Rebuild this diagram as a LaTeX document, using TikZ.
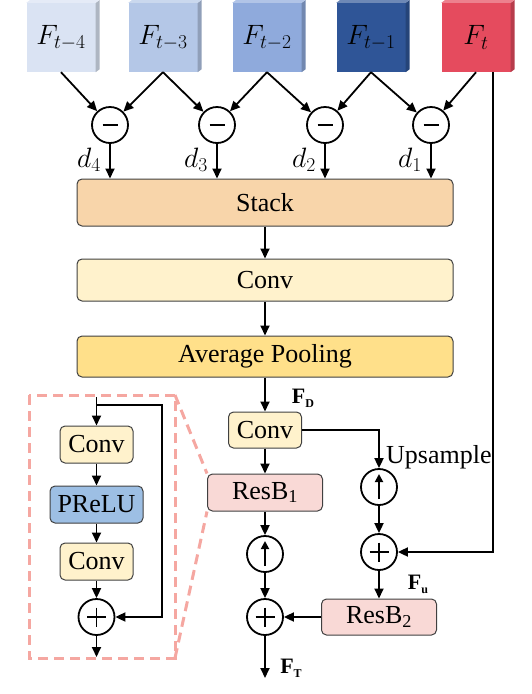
\RequirePackage{fix-cm}
\documentclass[tikz,border=0pt]{standalone}
\usepackage[no-math]{fontspec}
\setmainfont{Liberation Serif}
\usetikzlibrary{arrows.meta,calc}
\definecolor{cA}{HTML}{DAE3F3}
\definecolor{cB}{HTML}{B4C7E7}
\definecolor{cC}{HTML}{8FAADC}
\definecolor{cD}{HTML}{2F5597}
\definecolor{cE}{HTML}{E54B5E}
\definecolor{stackc}{HTML}{F8D5AA}
\definecolor{convc}{HTML}{FFF2CC}
\definecolor{avgc}{HTML}{FFE08A}
\definecolor{preluc}{HTML}{9DBFE4}
\definecolor{resc}{HTML}{F9D9D6}
\definecolor{dashc}{HTML}{F5A7A1}
\begin{document}
\begin{tikzpicture}[x=1pt,y=-1pt,
  every node/.style={font=\fontsize{26}{30}\selectfont},
  mathlbl/.style={font=\fontsize{28}{32}\selectfont},
  arr/.style={-{Triangle[length=10pt,width=9pt]}, line width=1.8pt},
  fbox/.style={minimum width=69pt, minimum height=69pt, inner sep=0},
  blk/.style={draw=black!75, line width=1pt, rounded corners=5pt, inner sep=0},
  op/.style={circle, draw, line width=1.8pt, minimum size=36pt, inner sep=0},
  opsym/.style={line width=1.8pt},
  lbl/.style={font=\fontsize{22}{22}\selectfont\bfseries},
  dashbox/.style={draw=dashc, line width=3pt, dash pattern=on 10pt off 6pt},
]
\useasboundingbox (0,0) rectangle (532,694);

% frame boxes
\node[fbox, mathlbl, fill=cA] (f4) at (61,37.5) {$F_{t-4}$};
\node[fbox, mathlbl, fill=cB] (f3) at (163,37.5) {$F_{t-3}$};
\node[fbox, mathlbl, fill=cC] (f2) at (267,37.5) {$F_{t-2}$};
\node[fbox, mathlbl, fill=cD] (f1) at (371,37.5) {$F_{t-1}$};
\node[fbox, mathlbl, fill=cE] (f0) at (476,37.5) {$F_{t}$};
\foreach \n/\c in {f4/cA,f3/cB,f2/cC,f1/cD,f0/cE}{
  \fill[\c!80!black] (\n.north east) -- ++(4,-3) -- ($(\n.south east)+(4,-3)$) -- (\n.south east) -- cycle;
  \fill[\c!70!white] (\n.north west) -- ++(4,-3) -- ($(\n.north east)+(4,-3)$) -- (\n.north east) -- cycle;
}

% difference operators
\node[op] (m4) at (110,125) {};
\node[op] (m3) at (217,125) {};
\node[op] (m2) at (325,125) {};
\node[op] (m1) at (431,125) {};
\foreach \m in {m4,m3,m2,m1}{
  \draw[opsym] ($(\m.center)+(-7.5,0)$) -- ($(\m.center)+(7.5,0)$);
}
\draw[arr] (f4.south) -- (m4);
\draw[arr] (f3.south) -- (m4);
\draw[arr] (f3.south) -- (m3);
\draw[arr] (f2.south) -- (m3);
\draw[arr] (f2.south) -- (m2);
\draw[arr] (f1.south) -- (m2);
\draw[arr] (f1.south) -- (m1);
\draw[arr] (f0.south) -- (m1);

% main column
\node[blk, fill=stackc, minimum width=376pt, minimum height=47pt] (stack) at (265,202.5) {Stack};
\node[blk, fill=convc, minimum width=376pt, minimum height=42pt] (conv) at (265,280) {Conv};
\node[blk, fill=avgc, minimum width=376pt, minimum height=41pt] (avg) at (265,356.5) {Average Pooling};

\foreach \m/\k in {m4/4,m3/3,m2/2,m1/1}{
  \draw[arr] (\m.south) -- (\m.south |- stack.north);
  \node[mathlbl, anchor=east, inner sep=0] at ($(\m.south)+(-9,16)$) {$d_{\k}$};
}
\draw[arr] (stack.south) -- (conv.north);
\draw[arr] (conv.south) -- (avg.north);

\node[blk, fill=convc, minimum width=73pt, minimum height=36pt] (conv2) at (265,430) {Conv};
\node[blk, fill=resc, minimum width=115pt, minimum height=37pt] (res1) at (265,492.5) {ResB\textsubscript{1}};
\node[op] (up1) at (265,554) {};
\node[op] (plus1) at (265,617) {};
\coordinate (out) at (265,678);

\node[op] (up2) at (379,487) {};
\node[op] (plus2) at (379,552) {};
\node[blk, fill=resc, minimum width=115pt, minimum height=36pt] (res2) at (379,617) {ResB\textsubscript{2}};
\coordinate (ftx) at (493,0);

\foreach \u in {up1,up2}{
  \draw[-{Triangle[length=8pt,width=8pt]}, line width=1.8pt] ($(\u.center)+(0,12)$) -- ($(\u.center)+(0,-13)$);
}
\foreach \p in {plus1,plus2}{
  \draw[opsym] ($(\p.center)+(-9.5,0)$) -- ($(\p.center)+(9.5,0)$);
  \draw[opsym] ($(\p.center)+(0,-9.5)$) -- ($(\p.center)+(0,9.5)$);
}

\draw[arr] (avg.south) -- (conv2.north);
\draw[arr] (conv2.south) -- (res1.north);
\draw[arr] (res1.south) -- (up1);
\draw[arr] (up1) -- (plus1);
\draw[arr] (plus1) -- (out);
\draw[arr] (conv2.east) -| (up2);
\draw[arr] (up2) -- (plus2);
\draw[arr] (plus2) -- (res2.north);
\draw[arr] (res2.west) -- (plus1);
\draw[arr] (f0.south -| ftx) |- (plus2);

\node[lbl, inner sep=0] (lfd) at (303,398) {F\raisebox{-4pt}{\fontsize{12}{12}\selectfont\bfseries D}};
\node[lbl, inner sep=0] (lfu) at (418,584) {F\raisebox{-4pt}{\fontsize{12}{12}\selectfont\bfseries u}};
\node[lbl, inner sep=0] (lft) at (291,668) {F\raisebox{-4pt}{\fontsize{12}{12}\selectfont\bfseries T}};
\node[anchor=base west, inner sep=0] (lup) at (386,463) {Upsample};

% inset residual block
\draw[dashbox] (29,395) rectangle (175,658);
\coordinate (dtr) at (175,395);
\coordinate (dbr) at (175,658);
\draw[dashbox] (dtr) -- (res1.north west);
\draw[dashbox] (dbr) -- (res1.south west);

\node[blk, fill=convc, minimum width=73pt, minimum height=37pt] (sc1) at (96.5,444.5) {Conv};
\node[blk, fill=preluc, minimum width=93pt, minimum height=37pt] (spr) at (96.5,504.5) {PReLU};
\node[blk, fill=convc, minimum width=73pt, minimum height=37pt] (sc2) at (96.5,561.5) {Conv};
\node[op] (sp) at (96.5,617) {};
\draw[opsym] ($(sp.center)+(-9.5,0)$) -- ($(sp.center)+(9.5,0)$);
\draw[opsym] ($(sp.center)+(0,-9.5)$) -- ($(sp.center)+(0,9.5)$);
\coordinate (sin) at (96.5,397);
\coordinate (sbr) at (96.5,405);
\coordinate (sskip) at (162,405);
\coordinate (sout) at (96.5,657);
\draw[arr] (sin) -- (sc1.north);
\draw[arr] (sbr) -- (sskip) |- (sp);
\draw[arr] (sc1.south) -- (spr.north);
\draw[arr] (spr.south) -- (sc2.north);
\draw[arr] (sc2.south) -- (sp);
\draw[arr] (sp) -- (sout);
\end{tikzpicture}
\end{document}
